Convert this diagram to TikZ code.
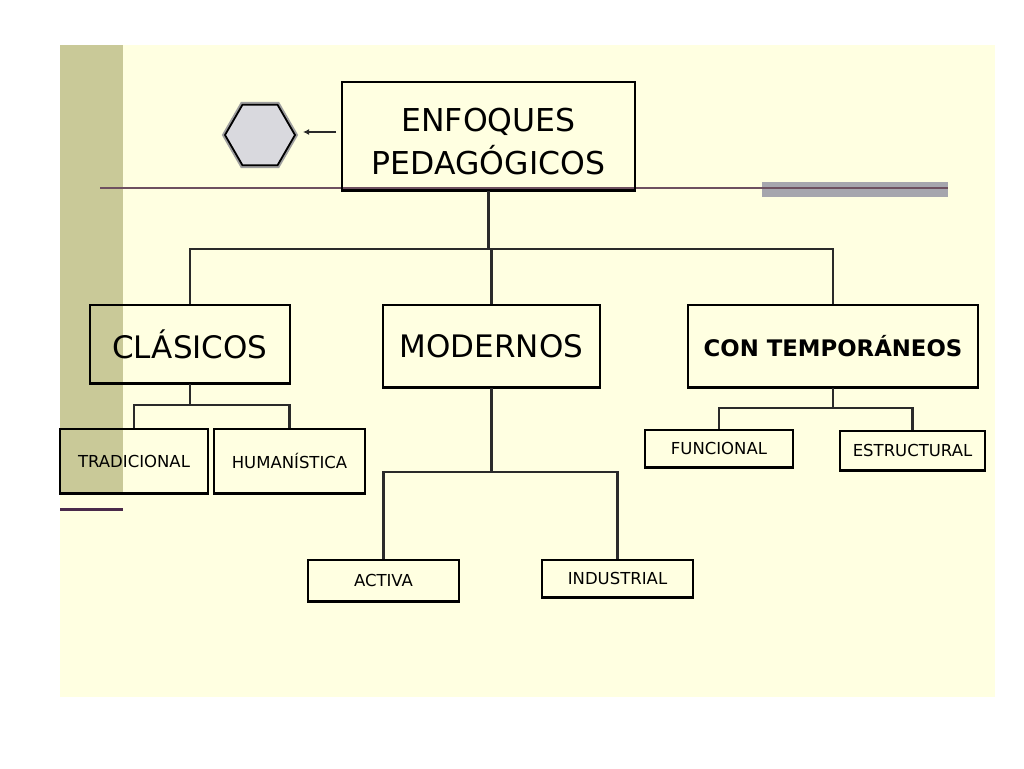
\documentclass[tikz,border=0pt]{standalone}
\usepackage{fontspec}
\setmainfont{DejaVu Sans}
\usetikzlibrary{shapes.geometric,arrows.meta}
\definecolor{cream}{HTML}{FFFFE1}
\definecolor{olive}{HTML}{C9C998}
\definecolor{rulecol}{HTML}{6E5060}
\definecolor{barcol}{HTML}{A6A6AE}
\definecolor{hexfill}{HTML}{D9D9DE}
\definecolor{linkcol}{HTML}{2A2A2A}
\tikzset{
  box/.style={draw=black, line width=1.6pt, inner sep=0pt, align=center, text=black},
  bigtxt/.style={font=\fontsize{31}{36}\selectfont},
  smalltxt/.style={font=\fontsize{16.5}{19}\selectfont},
  link/.style={draw=linkcol, line width=2.5pt},
  hexa/.style={regular polygon, regular polygon sides=6, minimum size=70pt, inner sep=0pt,
    fill=hexfill, draw=black, line width=1.8pt, preaction={draw=gray!75, line width=5.5pt}},
}
\begin{document}
\begin{tikzpicture}[x=1pt,y=-1pt]
\useasboundingbox (0,0) rectangle (1024,768);
\fill[white] (0,0) rectangle (1024,768);
\fill[cream] (60,45) rectangle (995,697);
\fill[olive] (60,45) rectangle (123,493);
\draw[draw={rgb,255:red,74;green,42;blue,74}, line width=3pt] (60,509) -- (123,509);
\fill[barcol] (762,182) rectangle (948,197);
\draw[rulecol, line width=2pt] (100,187.5) -- (948,187.5);

% nodes
\node[box, minimum width=293pt, minimum height=108pt, font=\fontsize{31.5}{43}\selectfont] (root) at (488.5,136)
  {\raisebox{-8pt}[\height][\depth]{\begin{tabular}{@{}c@{}}ENFOQUES\\[0pt]PEDAGÓGICOS\end{tabular}}};
\node[hexa] (hex) at (260,135) {};
\node[box, bigtxt, minimum width=200pt, minimum height=78pt] (cla) at (190,344) {CLÁSICOS};
\node[box, bigtxt, minimum width=217pt, minimum height=82pt] (mod) at (491.5,346) {MODERNOS};
\node[box, font=\bfseries\fontsize{22.8}{26}\selectfont, minimum width=290pt, minimum height=82pt] (con) at (833,346) {CON TEMPORÁNEOS};
\node[box, smalltxt, minimum width=148pt, minimum height=64pt] (tra) at (134,461) {TRADICIONAL};
\node[box, smalltxt, minimum width=151pt, minimum height=64pt] (hum) at (289.5,461) {HUMANÍSTICA};
\node[box, smalltxt, minimum width=151pt, minimum height=41pt] (act) at (383.5,580.5) {ACTIVA};
\node[box, smalltxt, minimum width=151pt, minimum height=37pt] (ind) at (617.5,578.5) {INDUSTRIAL};
\node[box, smalltxt, minimum width=148pt, minimum height=37pt] (fun) at (719,448.5) {FUNCIONAL};
\node[box, smalltxt, minimum width=145pt, minimum height=39pt] (est) at (912.5,450.5) {ESTRUCTURAL};

\foreach \n in {root,cla,mod,con,tra,hum,act,ind,fun,est}
  \draw[line width=3pt] (\n.south west) -- (\n.south east);

% arrow to hexagon
\coordinate (ah) at ([yshift=4pt]root.west);
\draw[link, line width=2pt, -{Latex[length=6pt,width=6pt]}, shorten <=5pt, shorten >=7pt] (ah) -- (ah -| hex.east);

% connectors
\coordinate (y0) at (0,249);
\coordinate (y1) at (0,405);
\coordinate (y2) at (0,472);
\coordinate (y3) at (0,408);
\coordinate (j0) at (root.south |- y0);
\coordinate (j1) at (cla.south |- y1);
\coordinate (j2) at (mod.south |- y2);
\coordinate (j3) at (con.south |- y3);
\draw[link] (root.south) -- (j0);
\draw[link] (cla.north) |- (j0);
\draw[link] (mod.north) |- (j0);
\draw[link] (con.north) |- (j0);
\draw[link] (cla.south) -- (j1);
\draw[link] (tra.north) |- (j1);
\draw[link] (hum.north) |- (j1);
\draw[link] (mod.south) -- (j2);
\draw[link] (act.north) |- (j2);
\draw[link] (ind.north) |- (j2);
\draw[link] (con.south) -- (j3);
\draw[link] (fun.north) |- (j3);
\draw[link] (est.north) |- (j3);
\end{tikzpicture}
\end{document}
